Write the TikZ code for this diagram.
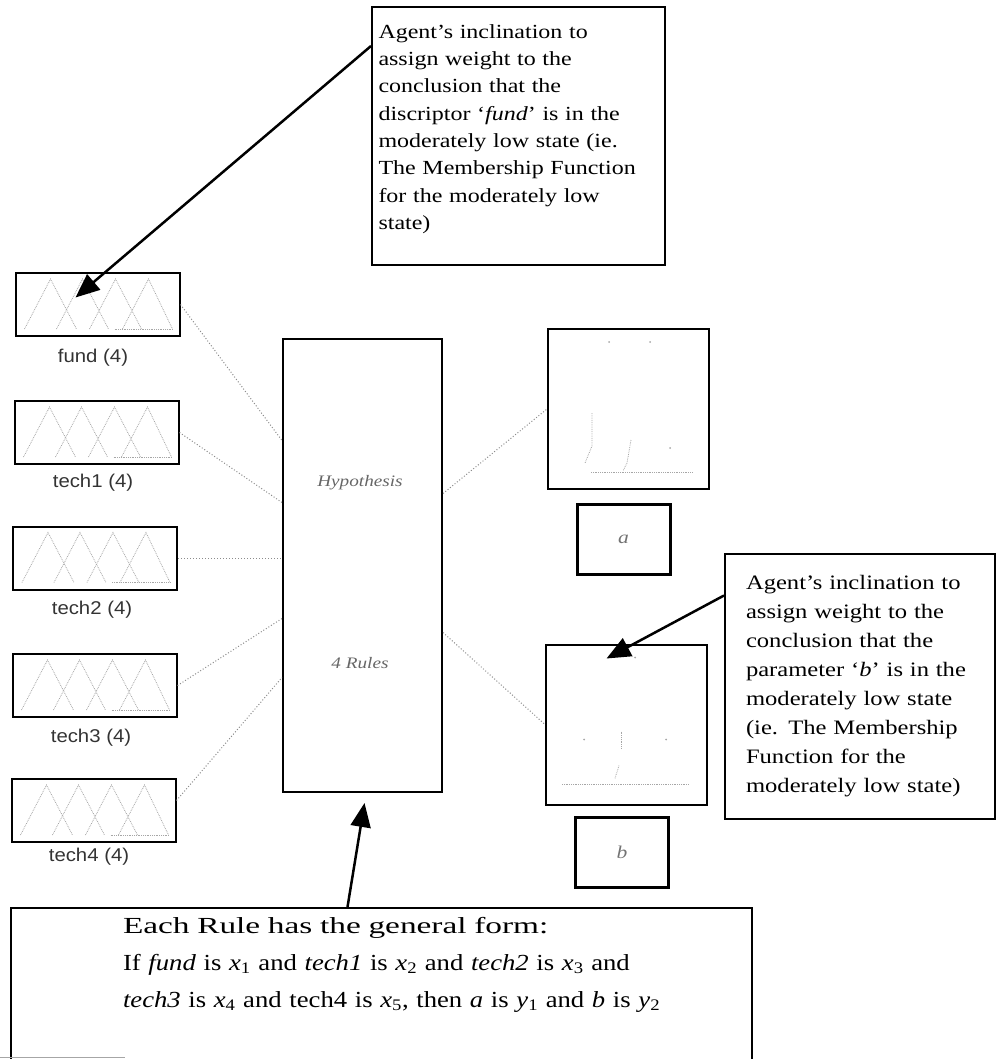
\documentclass[tikz,border=0pt]{standalone}
\usepackage{fontspec}
\setmainfont{Liberation Serif}
\newfontfamily\notefont[FakeStretch=1.2]{Liberation Serif}
\newfontfamily\rulefont[FakeStretch=1.45]{Liberation Serif}
\newfontfamily\formfont[FakeStretch=1.16]{Liberation Serif}
\newfontfamily\lblfont[FakeStretch=1.1]{Liberation Sans}
\usetikzlibrary{arrows.meta}

% faint membership functions drawn inside an input box
\newcommand{\mfshapes}[1]{%
  \begin{scope}[shift={(#1.north west)}]
    \draw[mf] (10,57) -- (36,7) -- (62,57);
    \draw[mf] (42,57) -- (68,7) -- (94,57);
    \draw[mf] (75,57) -- (101,7) -- (127,57);
    \draw[mf] (108,57) -- (134,7) -- (158,57);
    \draw[mf] (100,57) -- (158,57);
  \end{scope}}

\begin{document}
\begin{tikzpicture}[x=1pt, y=-1pt,
    inbox/.style ={draw, line width=2pt, inner sep=0pt, minimum width=164pt, minimum height=63pt},
    inlabel/.style ={font=\lblfont\fontsize{18.5}{22}\selectfont, text=black!80, inner sep=0pt},
    graphbox/.style ={draw, line width=2pt, inner sep=0pt, minimum width=161pt, minimum height=160pt},
    outbox/.style ={draw, line width=3pt, inner sep=0pt, minimum width=93pt, minimum height=70pt,
                    font=\notefont\itshape\fontsize{18}{20}\selectfont, text=black!55},
    rulebox/.style ={draw, line width=2pt, inner sep=0pt, minimum width=159pt, minimum height=453pt},
    ruletag/.style ={font=\notefont\itshape\fontsize{16}{18}\selectfont, text=black!60, inner sep=0pt},
    note/.style ={draw, line width=2pt, align=left, inner sep=0pt},
    link/.style ={draw=black!45, dotted, line width=1pt},
    mf/.style ={black!35, densely dotted, line width=0.8pt},
    pointer/.style ={line width=2.5pt, -{Triangle[length=24pt, width=20pt]}}]
   \useasboundingbox (0,0) rectangle (997,1059);

   % inputs
   \node[inbox] (fund)  at (97.5,304.5) {};
   \node[inbox] (tech1) at (96.5,432.5) {};
   \node[inbox] (tech2) at (95,558) {};
   \node[inbox] (tech3) at (94.5,685.5) {};
   \node[inbox] (tech4) at (93.5,810.5) {};
   \mfshapes{fund}
   \mfshapes{tech1}
   \mfshapes{tech2}
   \mfshapes{tech3}
   \mfshapes{tech4}
   \node[inlabel] (fundlbl)  at (93,358) {fund (4)};
   \node[inlabel] (tech1lbl) at (93,483) {tech1 (4)};
   \node[inlabel] (tech2lbl) at (92,610) {tech2 (4)};
   \node[inlabel] (tech3lbl) at (91,738) {tech3 (4)};
   \node[inlabel] (tech4lbl) at (89,857) {tech4 (4)};

   % rule block
   \node[rulebox] (rules) at (362.5,565.5) {};
   \node[ruletag] (hyp)    at (360,483) {Hypothesis};
   \node[ruletag] (nrules) at (360,663) {4 Rules};

   % outputs
   \node[graphbox] (agraph) at (628.5,409) {};
   \node[outbox]   (aout)   at (623.5,539) {a};
   \node[graphbox] (bgraph) at (626.5,724.5) {};
   \node[outbox]   (bout)   at (622,852) {b};
   \begin{scope}[shift={(agraph.north west)}]
     \draw[mf] (44,144) -- (145,144);
     \draw[mf] (45,85) -- (45,118) -- (38,135);
     \draw[mf] (84,112) -- (80,135) -- (76,143);
     \fill[black!35] (62,14) circle (1pt) (103,14) circle (1pt) (123,120) circle (1pt);
   \end{scope}
   \begin{scope}[shift={(bgraph.north west)}]
     \draw[mf] (17,141) -- (144,141);
     \draw[mf] (76,88) -- (76,105);
     \draw[mf] (74,122) -- (70,135);
     \fill[black!35] (39,96) circle (1pt) (121,96) circle (1pt) (90,14) circle (1pt);
   \end{scope}

   % notes
   \node[note, minimum width=293pt, minimum height=258pt, text width=280pt,
         font=\notefont\fontsize{20}{27.3}\selectfont] (noteA) at (518.5,136)
     {Agent’s inclination to\\ assign weight to the\\ conclusion that the\\
      discriptor ‘\textit{fund}’ is in the\\ moderately low state (ie.\\
      The Membership Function\\ for the moderately low\\ state)\par\kern14pt};
   \node[note, minimum width=270pt, minimum height=265pt, text width=228pt,
         font=\notefont\fontsize{20.5}{29}\selectfont] (noteB) at (860,686.5)
     {Agent’s inclination to\\ assign weight to the\\ conclusion that the\\
      parameter ‘\textit{b}’ is in the\\ moderately low state\\
      (ie. The Membership\\ Function for the\\ moderately low state)};
   \node[note, minimum width=741pt, minimum height=182pt, text width=730pt,
         font=\rulefont\fontsize{23}{37}\selectfont] (noteC) at (381.5,999)
     {\leftskip=106.5pt Each Rule has the general form:\\ \formfont
      If \textit{fund} is \textit{x}\textsubscript{1} and \textit{tech1} is \textit{x}\textsubscript{2} and
      \textit{tech2} is \textit{x}\textsubscript{3} and\\
      \textit{tech3} is \textit{x}\textsubscript{4} and tech4 is \textit{x}\textsubscript{5}, then \textit{a} is
      \textit{y}\textsubscript{1} and \textit{b} is \textit{y}\textsubscript{2}\par\kern69pt};
   \draw[black!35, line width=1pt] (0,1057) -- (125,1057);

   % connectors
   \draw[link] (fund.east)  -- ([yshift=125pt]rules.west);
   \draw[link] (tech1.east) -- ([yshift=63pt]rules.west);
   \draw[link] (tech2.east) -- (tech2.east -| rules.west);
   \draw[link] (tech3.east) -- ([yshift=-53pt]rules.west);
   \draw[link] ([yshift=10pt]tech4.east) -- ([yshift=-112pt]rules.west);
   \draw[link] ([yshift=72pt]rules.east) -- (agraph.west);
   \draw[link] ([yshift=-67pt]rules.east) -- (bgraph.west);

   \draw[pointer] ([yshift=90pt]noteA.west) -- ([xshift=-22pt,yshift=7pt]fund.center);
   \draw[pointer] ([yshift=91pt]noteB.west) -- ([xshift=-20pt,yshift=-15pt]bgraph.north);
   \draw[pointer] ([xshift=-34pt]noteC.north) -- ([xshift=2pt,yshift=-10pt]rules.south);
\end{tikzpicture}
\end{document}
